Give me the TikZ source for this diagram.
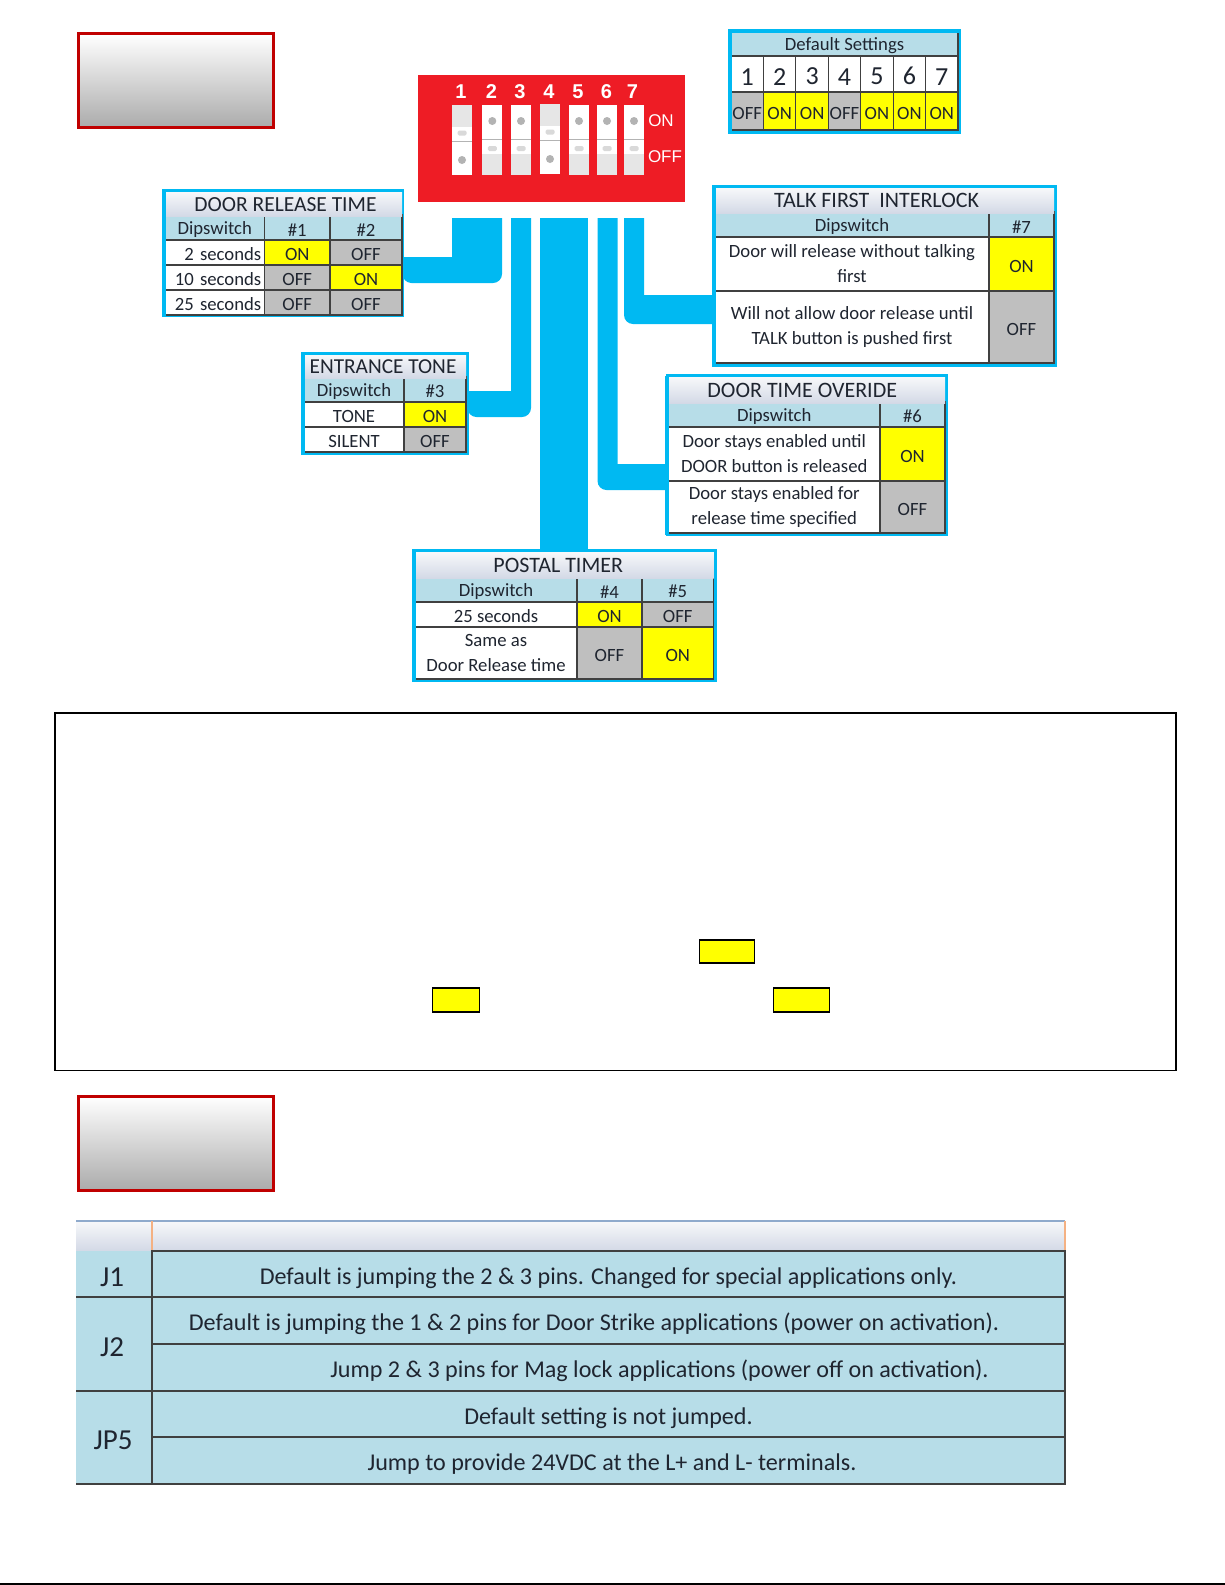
\documentclass[tikz,border=0pt]{standalone}
\usepackage{fontspec}
\setmainfont{Carlito}
\newfontfamily\dipfont{Liberation Sans}
\definecolor{feedblue}{HTML}{00B9F2}
\definecolor{dipred}{HTML}{EE1C25}
\definecolor{rulegrey}{HTML}{404040}
\definecolor{headblue}{HTML}{B7DDE8}
\definecolor{offgrey}{HTML}{BFBFBF}
\definecolor{oncolor}{HTML}{FFFF00}
\definecolor{inktext}{HTML}{1F2530}
\definecolor{bannerred}{HTML}{C00000}
\definecolor{bandtop}{HTML}{F7F8FA}
\definecolor{bandlow}{HTML}{D3D9E6}
\definecolor{paddlegrey}{HTML}{E6E6E6}
\definecolor{knobgrey}{HTML}{B3B3B3}
\definecolor{bandedge}{HTML}{8FAACC}
\definecolor{bandmark}{HTML}{F4B183}
\usepackage{tikz}
\usetikzlibrary{calc}

\begin{document}
\begin{tikzpicture}[
				x=1pt, y=-1pt,
				wh/.style 2 args={minimum width=#1, minimum height=#2},
				cell/.style={draw=rulegrey, line width=1.2, inner sep=0, outer sep=0, text=inktext, align=center, font=\fontsize{18.7}{25}\selectfont, execute at begin node={\rule{0pt}{17pt}}},
				frame/.style={draw=feedblue, line width=3, fill=white, inner sep=0, outer sep=0},
				edge/.style={feedblue, line width=4},
				band/.style={inner sep=0, outer sep=0, top color=bandtop, bottom color=bandlow, text=inktext, font=\fontsize{22}{25}\selectfont},
				headcell/.style={cell, fill=headblue},
				textcell/.style={cell, fill=white},
				digitcell/.style={textcell, wh={32.43}{36}, font=\fontsize{26}{30}\selectfont, execute at begin node={\rule{0pt}{22pt}}},
				oncell/.style={cell, fill=oncolor},
				offcell/.style={cell, fill=offgrey},
				rightlabel/.style={textcell, align=right, text width=93},
				feeder/.style={fill=feedblue, draw=none},
				banner/.style={draw=bannerred, line width=2.8, inner sep=0, top color=white, bottom color=black!33},
				yellowmark/.style={draw=black, line width=1.2, fill=oncolor, inner sep=0},
				rowcell/.style={draw=rulegrey, line width=1.4, fill=headblue, inner sep=0, outer sep=0, text=inktext, align=center, font=\fontsize{24.1}{28}\selectfont, execute at begin node={\rule{0pt}{24.5pt}}},
				jumpcell/.style={rowcell, draw=none, font=\fontsize{29}{30}\selectfont, execute at begin node={\rule{0pt}{24pt}}},
				topband/.style={draw=none, inner sep=0, outer sep=0, top color=bandtop, bottom color=bandlow},
				diplabel/.style={text=white, inner sep=0, font=\dipfont\bfseries\fontsize{20}{20}\selectfont},
				sidelabel/.style={text=white, inner sep=0, font=\dipfont\fontsize{17}{20}\selectfont},
				onswitch/.pic={
					\fill[white] (-10,-35) rectangle (10,35);
					\fill[paddlegrey] (-10,14) rectangle (10,35);
					\fill[black!15, rounded corners=1.5] (-4.5,6) rectangle (4.5,11);
					\fill[knobgrey] (0,-19) circle (4);
					\draw[knobgrey, line width=1] (-10,-1) -- (10,-1);
				},
				offswitch/.pic={
					\fill[white] (-10,-35) rectangle (10,35);
					\fill[paddlegrey] (-10,-35) rectangle (10,-13);
					\fill[black!15, rounded corners=1.5] (-4.5,-9.5) rectangle (4.5,-4.5);
					\fill[knobgrey] (0,20) circle (4);
					\draw[knobgrey, line width=1] (-10,1) -- (10,1);
				}
			]
			\useasboundingbox (0,0) rectangle (1225,1585);

			% Upper and lower banners
			\node[banner, wh={194.5}{94}] (upperbanner) at (176,80.8) {};
			\node[banner, wh={195}{94}] (lowerbanner) at (176,1143.3) {};

			% Dip switch block
			\node[fill=dipred, inner sep=0, wh={267}{127}] (dipblock) at (551.5,138.5) {};
			\pic at (462,140) {offswitch};
			\pic at (492.3,140) {onswitch};
			\pic at (521,140) {onswitch};
			\pic at (550,139) {offswitch};
			\pic at (579,140) {onswitch};
			\pic at (607,140) {onswitch};
			\pic at (634,140) {onswitch};
			\node[diplabel] (dig1) at (461,92) {1};
			\node[diplabel] (dig2) at (491.5,92) {2};
			\node[diplabel] (dig3) at (520,92) {3};
			\node[diplabel] (dig4) at (549,92) {4};
			\node[diplabel] (dig5) at (578,92) {5};
			\node[diplabel] (dig6) at (606.5,92) {6};
			\node[diplabel] (dig7) at (632.5,92) {7};
			\node[sidelabel] (onlabel) at (661,120.5) {ON};
			\node[sidelabel] (offlabel) at (665,157) {OFF};

			% Table frames first, so the feeders can name them
			\node[frame, wh={239}{125}] (release) at (283,253) {};
			\node[frame, wh={165}{100}] (tone) at (385,403.5) {};
			\node[frame, wh={342}{179}] (talk) at (884.5,276) {};
			\node[frame, wh={279.5}{159}] (overide) at (806.75,455) {};
			\node[frame, wh={301.5}{130}] (postal) at (564.25,615.5) {};

			% Feeders
			\coordinate (lead1) at (452,218);
			\coordinate (lead3) at (511,218);
			\coordinate (lead45) at (564.25,218);
			\coordinate (lead6) at (597.5,218);
			\coordinate (lead7) at (624,218);
			\fill[feeder] (lead1) -- ++(50,0) [rounded corners=9] |- (release.east |- 0,283) [sharp corners] -- (release.east |- 0,257) -| (lead1);
			\fill[feeder] (lead3) -- ++(20,0) [rounded corners=9] |- (tone.east |- 0,417) [sharp corners] -- (tone.east |- 0,391) -| (lead3);
			\draw[feedblue, line width=48] (lead45) -- (postal.north);
			\fill[feeder] (lead6) -- ++(20,0) |- (overide.west |- 0,464) -- (overide.west |- 0,490) [rounded corners=9] -| (lead6);
			\fill[feeder] (lead7) -- ++(20,0) |- (talk.west |- 0,295) -- (talk.west |- 0,324) [rounded corners=9] -| (lead7);

			% Door release time
			\node[headcell, wh={99.5}{25}] (rdip) at (214.75,227.5) {Dipswitch};
			\node[headcell, wh={65.5}{25}] (rone) at (297.25,227.5) {\#1};
			\node[headcell, wh={72}{25}] (rtwo) at (366,227.5) {\#2};
			\node[rightlabel, wh={99.5}{25}] (ra) at (214.75,252.5) {2 seconds};
			\node[oncell, wh={65.5}{25}] (ra1) at (297.25,252.5) {ON};
			\node[offcell, wh={72}{25}] (ra2) at (366,252.5) {OFF};
			\node[rightlabel, wh={99.5}{25}] (rb) at (214.75,277.5) {10 seconds};
			\node[offcell, wh={65.5}{25}] (rb1) at (297.25,277.5) {OFF};
			\node[oncell, wh={72}{25}] (rb2) at (366,277.5) {ON};
			\node[rightlabel, wh={99.5}{25}] (rc) at (214.75,302.5) {25 seconds};
			\node[offcell, wh={65.5}{25}] (rc1) at (297.25,302.5) {OFF};
			\node[offcell, wh={72}{25}] (rc2) at (366,302.5) {OFF};
			\node[band, wh={237}{24.2}, font=\fontsize{21.5}{25}\selectfont] (releasetitle) at (283.5,204.1) {\hspace*{4pt}DOOR RELEASE TIME};
			\draw[edge] (release.north west) -- (release.south west);

			% Entrance tone
			\node[headcell, wh={100}{25}] (tdip) at (354,389.5) {Dipswitch};
			\node[headcell, wh={62}{25}] (tthree) at (435,389.5) {\#3};
			\node[textcell, wh={100}{25}] (ta) at (354,414.5) {TONE};
			\node[oncell, wh={62}{25}] (ta1) at (435,414.5) {ON};
			\node[textcell, wh={100}{25}] (tb) at (354,439.5) {SILENT};
			\node[offcell, wh={62}{25}] (tb1) at (435,439.5) {OFF};
			\node[band, wh={162}{23.2}, font=\fontsize{21.3}{25}\selectfont] (tonetitle) at (385,366.6) {ENTRANCE TONE\hspace*{4pt}};
			\draw[edge] (tone.north west) -- (tone.south west);

			% Default settings
			\node[frame, wh={230}{102}] (defaults) at (844.5,81.5) {};
			\node[headcell, wh={227}{24}] (defaulttitle) at (844.5,44) {Default Settings};
			\node[digitcell] (dn1) at (747.2,74) {1};
			\node[digitcell] (dn2) at (779.6,74) {2};
			\node[digitcell] (dn3) at (812.1,74) {3};
			\node[digitcell] (dn4) at (844.5,74) {4};
			\node[digitcell] (dn5) at (876.9,74) {5};
			\node[digitcell] (dn6) at (909.4,74) {6};
			\node[digitcell] (dn7) at (941.8,74) {7};
			\node[offcell, wh={32.43}{38}] (ds1) at (747.2,111) {OFF};
			\node[oncell, wh={32.43}{38}] (ds2) at (779.6,111) {ON};
			\node[oncell, wh={32.43}{38}] (ds3) at (812.1,111) {ON};
			\node[offcell, wh={32.43}{38}] (ds4) at (844.5,111) {OFF};
			\node[oncell, wh={32.43}{38}] (ds5) at (876.9,111) {ON};
			\node[oncell, wh={32.43}{38}] (ds6) at (909.4,111) {ON};
			\node[oncell, wh={32.43}{38}] (ds7) at (941.8,111) {ON};
			\draw[edge] (defaults.south west) -- (defaults.north west) -- (defaults.north east);

			% Talk first interlock
			\node[headcell, wh={274}{25}] (kdip) at (852,224.5) {Dipswitch};
			\node[headcell, wh={65}{25}] (kseven) at (1021.5,224.5) {\#7};
			\node[textcell, wh={274}{54}] (ka) at (852,264) {Door will release without talking\\first};
			\node[oncell, wh={65}{54}] (ka1) at (1021.5,264) {ON};
			\node[textcell, wh={274}{72}] (kb) at (852,327) {Will not allow door release until\\TALK button is pushed first};
			\node[offcell, wh={65}{72}] (kb1) at (1021.5,327) {OFF};
			\node[band, wh={339}{25.2}] (talktitle) at (884.5,200.6) {TALK FIRST\ \ INTERLOCK\hspace*{16pt}};
			\draw[edge] (talk.north west) -- (talk.south west);

			% Door time overide
			\node[headcell, wh={211.5}{25}] (odip) at (774.25,414.5) {Dipswitch};
			\node[headcell, wh={65}{25}] (osix) at (912.5,414.5) {\#6};
			\node[textcell, wh={211.5}{54}] (oa) at (774.25,454) {Door stays enabled until\\DOOR button is released};
			\node[oncell, wh={65}{54}] (oa1) at (912.5,454) {ON};
			\node[textcell, wh={211.5}{52}] (ob) at (774.25,507) {Door stays enabled for\\release time specified};
			\node[offcell, wh={65}{52}] (ob1) at (912.5,507) {OFF};
			\node[band, wh={276.5}{26.2}] (overidetitle) at (806.75,390.1) {DOOR TIME OVERIDE\hspace*{9pt}};
			\draw[edge] (overide.north west) -- (overide.south west);

			% Postal timer
			\node[headcell, wh={162}{25}] (pdip) at (496,589.5) {Dipswitch};
			\node[headcell, wh={65}{25}] (pfour) at (609.5,589.5) {\#4};
			\node[headcell, wh={71.5}{25}] (pfive) at (677.75,589.5) {\#5};
			\node[textcell, wh={162}{25}] (pa) at (496,614.5) {25 seconds};
			\node[oncell, wh={65}{25}] (pa1) at (609.5,614.5) {ON};
			\node[offcell, wh={71.5}{25}] (pa2) at (677.75,614.5) {OFF};
			\node[textcell, wh={162}{52}] (pb) at (496,653) {Same as\\Door Release time};
			\node[offcell, wh={65}{52}] (pb1) at (609.5,653) {OFF};
			\node[oncell, wh={71.5}{52}] (pb2) at (677.75,653) {ON};
			\node[band, wh={298.5}{26.2}] (postaltitle) at (564.25,565.1) {POSTAL TIMER\hspace*{12pt}};
			\draw[edge] (postal.north west) -- (postal.south west);

			% Middle box with its yellow marks
			\node[draw=black, line width=1.5, inner sep=0, wh={1121}{357.5}] (notebox) at (615.5,891.5) {};
			\node[yellowmark, wh={55.5}{23}] (markone) at (727,951.5) {};
			\node[yellowmark, wh={47.5}{24}] (marktwo) at (456,1000) {};
			\node[yellowmark, wh={56.5}{24}] (markthree) at (801.5,1000) {};

			% Jumper table
			\node[topband, wh={76}{30}] (jhead) at (114,1236) {};
			\node[topband, wh={913}{30}] (dhead) at (608.5,1236) {};
			\draw[bandedge, line width=1.4] (jhead.north west) -- (dhead.north east);
			\draw[bandmark, line width=1.2] (jhead.north east) -- (jhead.south east);
			\draw[bandmark, line width=1.2] (dhead.north east) -- (dhead.south east);
			\node[jumpcell, wh={76}{46}] (jone) at (114,1274) {J1\hspace*{4pt}};
			\node[jumpcell, wh={76}{94}] (jtwo) at (114,1344) {J2\hspace*{4pt}};
			\node[jumpcell, wh={76}{93}] (jfive) at (114,1437.5) {JP5\hspace*{2pt}};
			\draw[rulegrey, line width=1.4] (jone.south west) -- (jone.south east);
			\draw[rulegrey, line width=1.4] (jtwo.south west) -- (jtwo.south east);
			\draw[rulegrey, line width=1.4] (jfive.south west) -- (jfive.south east);
			\node[rowcell, wh={913}{46}] (da) at (608.5,1274) {Default is jumping the 2 \& 3 pins. Changed for special applications only.};
			\node[rowcell, wh={913}{47}] (db) at (608.5,1320.5) {Default is jumping the 1 \& 2 pins for Door Strike applications (power on activation).\hspace*{29pt}};
			\node[rowcell, wh={913}{47}] (dc) at (608.5,1367.5) {\hspace*{102pt}Jump 2 \& 3 pins for Mag lock applications (power off on activation).};
			\node[rowcell, wh={913}{46}] (dd) at (608.5,1414) {Default setting is not jumped.};
			\node[rowcell, wh={913}{47}] (de) at (608.5,1460.5) {\hspace*{7pt}Jump to provide 24VDC at the L+ and L- terminals.};

			% Page rule
			\coordinate (ruleleft) at (0,1584);
			\coordinate (ruleright) at (1225,1584);
			\draw[black, line width=2] (ruleleft) -- (ruleright);
		\end{tikzpicture}
\end{document}
